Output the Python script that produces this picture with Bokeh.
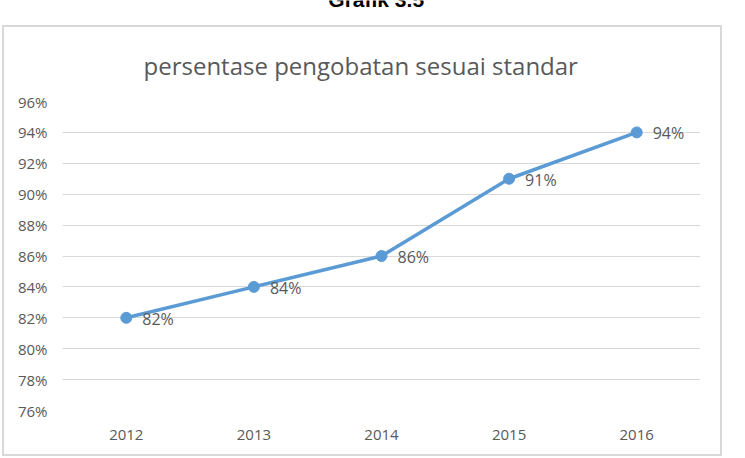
from bokeh.plotting import figure
from bokeh.layouts import column
from bokeh.models import FactorRange, Range1d, NumeralTickFormatter, ColumnDataSource, LabelSet
from bokeh.core.properties import value
from bokeh.embed import file_html
from bokeh.resources import INLINE

years = ["2012", "2013", "2014", "2015", "2016"]
values = [0.82, 0.84, 0.86, 0.91, 0.94]
value_labels = ["82%", "84%", "86%", "91%", "94%"]
y_ticks = [0.76, 0.78, 0.80, 0.82, 0.84, 0.86, 0.88, 0.90, 0.92, 0.94, 0.96]
page_caption = ["Grafik 3.5"]
chart_title = "persentase pengobatan sesuai standar"

# caption strip above the chart box (text partly cut at the page top)
top = figure(width=745, height=25, x_range=Range1d(0, 745), y_range=Range1d(0, 25),
             output_backend="svg", toolbar_location=None, min_border=0, title=None)
top.axis.visible = False
top.grid.visible = False
top.outline_line_color = None
top.text(x=[357], y=[26], text=page_caption, text_font=value("Liberation Sans"),
         text_font_style="bold", text_font_size="21px", text_color="#000000",
         text_align="center", text_baseline="alphabetic")

p = figure(width=720, height=431, x_range=FactorRange(*years), y_range=Range1d(0.76, 0.96),
           output_backend="svg", toolbar_location=None,
           min_border_left=58, min_border_right=24, min_border_top=71, min_border_bottom=48)
p.margin = (0, 0, 0, 2)
p.styles = {"border": "2px solid #D9D9D9"}
p.outline_line_color = None
p.background_fill_color = "white"
p.border_fill_color = "white"

p.title.text = chart_title
p.title.align = "left"
p.title.text_font = "Open Sans"
p.title.text_font_size = "24px"
p.title.text_font_style = "normal"
p.title.text_color = "#595959"
p.title.offset = 81
p.title.standoff = 39

p.xgrid.grid_line_color = None
p.ygrid.grid_line_color = "#D9D9D9"
p.ygrid.grid_line_width = 1

for ax in (p.xaxis, p.yaxis):
    ax.axis_line_color = None
    ax.major_tick_line_color = None
    ax.minor_tick_line_color = None
    ax.major_label_text_font = "Open Sans"
    ax.major_label_text_font_size = "15px"
    ax.major_label_text_color = "#595959"
p.yaxis.ticker = y_ticks
p.yaxis.formatter = NumeralTickFormatter(format="0%")
p.yaxis.major_label_standoff = 9
p.xaxis.major_label_standoff = 13

src = ColumnDataSource(dict(x=years, y=values, t=value_labels))
p.line("x", "y", source=src, line_color="#5B9BD5", line_width=3.5)
p.scatter("x", "y", source=src, size=11, fill_color="#5B9BD5", line_color="#5B9BD5")
p.add_layout(LabelSet(x="x", y="y", text="t", source=src, x_offset=16, y_offset=-1,
                      text_font=value("Open Sans"), text_font_size="16px", text_color="#595959",
                      text_baseline="middle", text_align="left"))

layout = column(top, p, spacing=0)
open("out.html", "w").write(file_html(layout, INLINE))
